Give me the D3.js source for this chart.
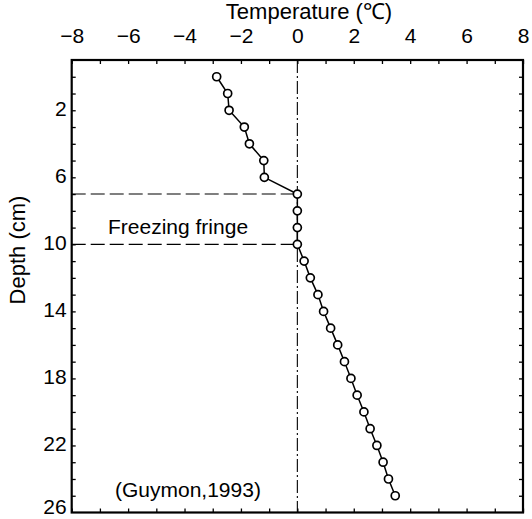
<!DOCTYPE html>
<html><head><meta charset="utf-8">
<script src="https://cdn.jsdelivr.net/npm/d3@7/dist/d3.min.js"></script>
<style>body{margin:0;background:#fff}</style>
</head><body>
<svg id="c" width="532" height="519"></svg>
<script>
// Data
const depths = [0,1,2,3,4,5,6,7,8,9,10,11,12,13,14,15,16,17,18,19,20,21,22,23,24,25];
const temps  = [-2.86,-2.47,-2.42,-1.88,-1.70,-1.19,-1.17,0,0,0,0,0.24,0.46,0.73,0.93,1.18,1.43,1.67,1.90,2.12,2.36,2.58,2.82,3.04,3.23,3.47];
const xTickLabels = [-8,-6,-4,-2,0,2,4,6,8];
const yTickLabels = [2,6,10,14,18,22,26];
const fringeDepths = [7,10];
const xDomain = [-8,8];
const yDomain = [-1,26];

const svg = d3.select("#c");
const font = "'Liberation Sans', Arial, Helvetica, sans-serif";
const L=71.7, R=523, T=60, B=512.5;
const x = d3.scaleLinear().domain(xDomain).range([L,R]);
const y = d3.scaleLinear().domain(yDomain).range([T,B]);

const xMinor = d3.range(xDomain[0], xDomain[1]+1, 1);
const yMinor = d3.range(0, 26, 1);

function styleAxis(g){
  g.select(".domain").remove();
  g.selectAll(".tick line").attr("stroke","#000").attr("stroke-width",1.3);
  g.selectAll("text").attr("font-family",font).attr("font-size",21).attr("fill","#000");
}
// minor ticks (all sides)
svg.append("g").attr("transform",`translate(0,${T})`).call(d3.axisTop(x).tickValues(xMinor).tickSize(-4).tickFormat("")).call(styleAxis);
svg.append("g").attr("transform",`translate(0,${B})`).call(d3.axisBottom(x).tickValues(xMinor).tickSize(-4).tickFormat("")).call(styleAxis);
svg.append("g").attr("transform",`translate(${L},0)`).call(d3.axisLeft(y).tickValues(yMinor).tickSize(-4).tickFormat("")).call(styleAxis);
svg.append("g").attr("transform",`translate(${R},0)`).call(d3.axisRight(y).tickValues(yMinor).tickSize(-4).tickFormat("")).call(styleAxis);

// labels
svg.append("g").attr("transform",`translate(0,${T})`).call(d3.axisTop(x).tickValues(xTickLabels).tickSize(0).tickPadding(17)).call(styleAxis);
const yl = svg.append("g").attr("transform",`translate(${L},-2)`).call(d3.axisLeft(y).tickValues(yTickLabels).tickSize(0).tickPadding(5)).call(styleAxis);
// keep the bottom label inside the picture
yl.selectAll(".tick text").filter(d=>d===yDomain[1]).attr("y",-4);

// frame
svg.append("rect").attr("x",L).attr("y",T).attr("width",R-L).attr("height",B-T)
  .attr("fill","none").attr("stroke","#000").attr("stroke-width",2.2);

// zero line (dash-dot)
svg.append("line").attr("x1",x(0)).attr("x2",x(0)).attr("y1",T).attr("y2",B)
  .attr("stroke","#000").attr("stroke-width",1.1).attr("stroke-dasharray","13,3,2,3");

// fringe dashed lines
svg.selectAll(".fr").data(fringeDepths).enter().append("line")
  .attr("x1",x(xDomain[0])).attr("x2",x(0)).attr("y1",d=>y(d)).attr("y2",d=>y(d))
  .attr("stroke","#000").attr("stroke-width",1.1).attr("stroke-dasharray","14,5");

// profile line
const pts = depths.map((d,i)=>({d, t:temps[i]}));
svg.append("path").datum(pts)
  .attr("d", d3.line().x(p=>x(p.t)).y(p=>y(p.d)))
  .attr("fill","none").attr("stroke","#000").attr("stroke-width",1.5);
svg.selectAll(".pt").data(pts).enter().append("circle")
  .attr("cx",p=>x(p.t)).attr("cy",p=>y(p.d)).attr("r",4)
  .attr("fill","#fff").attr("stroke","#000").attr("stroke-width",1.7);

// texts
svg.append("text").attr("x",309).attr("y",19).attr("text-anchor","middle")
  .attr("font-family",font).attr("font-size",22).text("Temperature (℃)");
svg.append("text").attr("transform",`translate(25,250) rotate(-90)`).attr("text-anchor","middle")
  .attr("font-family",font).attr("font-size",22).text("Depth (cm)");
svg.append("text").attr("x",108).attr("y",234)
  .attr("font-family",font).attr("font-size",21).text("Freezing fringe");
svg.append("text").attr("x",115).attr("y",497)
  .attr("font-family",font).attr("font-size",21).text("(Guymon,1993)");
</script>
</body></html>
